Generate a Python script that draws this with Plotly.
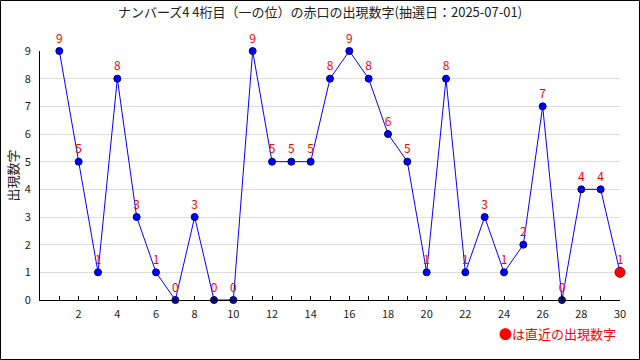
import plotly.graph_objects as go

draws = list(range(1, 31))
digits = [9, 5, 1, 8, 3, 1, 0, 3, 0, 0, 9, 5, 5, 5, 8, 9, 8, 6, 5, 1, 8, 1, 3, 1, 2, 7, 0, 4, 4, 1]
x_ticks = list(range(2, 31, 2))
y_ticks = list(range(0, 10))
title = "ナンバーズ4 4桁目（一の位）の赤口の出現数字(抽選日：2025-07-01)"
y_title = "出現数字"
note = "●は直近の出現数字"

FONT = "Noto Sans CJK JP"
L, R, T, B = 40, 20, 51, 60
PW, PH = 640 - L - R, 360 - T - B

fig = go.Figure()
fig.add_trace(go.Scatter(
    x=draws, y=digits, mode="lines+markers+text",
    text=[str(d) for d in digits], textposition="top center",
    textfont=dict(color="#ff0000", size=12, family=FONT),
    line=dict(color="#0000ff", width=1),
    marker=dict(color="#0000ff", size=7, line=dict(color="#000066", width=1)),
    cliponaxis=False, showlegend=False, hoverinfo="x+y"))
fig.add_trace(go.Scatter(
    x=[draws[-1]], y=[digits[-1]], mode="markers",
    marker=dict(color="#ff0000", size=10, line=dict(color="#990000", width=1)),
    cliponaxis=False, showlegend=False))

fig.update_layout(
    width=640, height=360,
    margin=dict(l=L, r=R, t=T, b=B),
    paper_bgcolor="white", plot_bgcolor="white",
    font=dict(family=FONT, size=12, color="#222222"),
    title=dict(text=title, x=0.5, xanchor="center", y=1 - 12 / 360, yanchor="middle",
               font=dict(size=13, color="#222222", family=FONT)),
    xaxis=dict(range=[0, 30], tickvals=x_ticks, ticks="inside", ticklen=4,
               tickcolor="black", showgrid=False, zeroline=False,
               showline=True, linecolor="black", linewidth=1,
               ticklabelstandoff=4,
               minor=dict(dtick=1, tick0=0, ticks="inside", ticklen=4, tickcolor="black"),
               tickfont=dict(size=11, color="#222222")),
    yaxis=dict(range=[0, 9], tickvals=y_ticks, ticks="", showgrid=True,
               gridcolor="#dddddd", zeroline=False, showline=True,
               linecolor="black", linewidth=1, ticklabelstandoff=6,
               tickfont=dict(size=11, color="#222222")),
    annotations=[
        dict(text=y_title, textangle=-90, x=(12 - L) / PW, y=0.5, xref="paper", yref="paper",
             showarrow=False, font=dict(size=13, color="#222222", family=FONT),
             xanchor="center", yanchor="middle"),
        dict(text=note, x=(618 - L) / PW, y=(300 - 333) / PH, xref="paper", yref="paper",
             showarrow=False, font=dict(size=13, color="#ff0000", family=FONT),
             xanchor="right", yanchor="middle"),
    ],
    shapes=[dict(type="rect", xref="paper", yref="paper",
                 x0=(0.5 - L) / PW, x1=(639.5 - L) / PW,
                 y0=(300 - 359.5) / PH, y1=(300 - 0.5) / PH,
                 line=dict(color="black", width=1))],
)
fig.write_html("out.html", config={"displayModeBar": False},
               post_script="document.body.style.margin='0';document.body.style.overflow='hidden';")
